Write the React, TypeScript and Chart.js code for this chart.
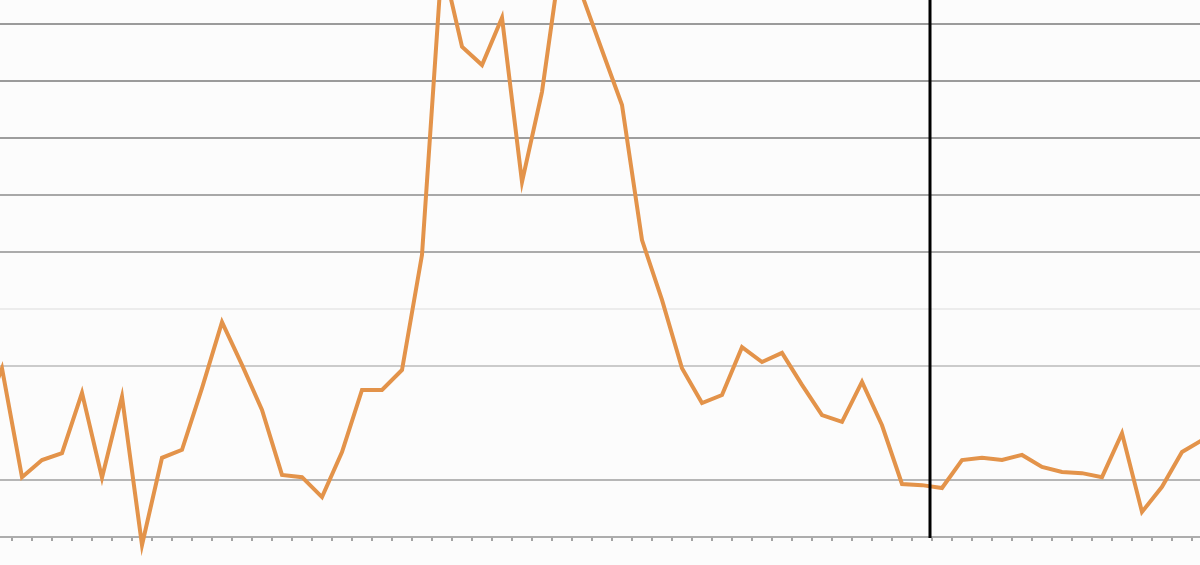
import React, { useEffect, useRef } from 'react';
import { Chart, registerables } from 'chart.js';

Chart.register(...registerables);

// one reading per period; the first and last readings sit just outside the visible crop
const readings = [
  2.05, 2.96, 1.05, 1.35, 1.47, 2.53, 1.04, 2.46, -0.14, 1.39,
  1.53, 2.61, 3.77, 3.02, 2.23, 1.09, 1.05, 0.7, 1.49, 2.58,
  2.58, 2.93, 4.95, 10.12, 8.6, 8.28, 9.11, 6.23, 7.81, 10.3,
  9.51, 8.54, 7.58, 5.21, 4.16, 2.96, 2.35, 2.49, 3.33, 3.07,
  3.23, 2.67, 2.14, 2.02, 2.72, 1.96, 0.93, 0.91, 0.86, 1.35,
  1.39, 1.35, 1.44, 1.23, 1.14, 1.12, 1.05, 1.82, 0.44, 0.88,
  1.49, 1.7,
];
const periods = readings.map((_, i) => String(i + 1));

// position of the vertical marker, in periods
const markerAt = 47.4;

// y tick values and the shade of their grid lines
const yTicks = [0, 1, 2, 3, 4, 5, 6, 7, 8, 9, 10, 11];
const gridShades = [
  '#adadad', '#b6b6b6', 'rgba(0,0,0,0)', '#cbcbcb', '#ececec', '#ababab',
  '#a8a8a8', '#9d9d9d', '#9b9b9b', '#9b9b9b', '#9b9b9b', '#9b9b9b',
];

const markerLine = {
  id: 'markerLine',
  afterDatasetsDraw(chart: Chart) {
    const { ctx, chartArea, scales } = chart;
    const x = scales.x.getPixelForValue(markerAt);
    ctx.save();
    ctx.strokeStyle = '#000000';
    ctx.lineWidth = 3;
    ctx.beginPath();
    ctx.moveTo(x, chartArea.top);
    ctx.lineTo(x, chartArea.bottom + 1);
    ctx.stroke();
    ctx.restore();
  },
};

const App: React.FC = () => {
  const chartRef = useRef<HTMLCanvasElement>(null);
  const chartInstance = useRef<Chart | null>(null);

  useEffect(() => {
    if (!chartRef.current) return;
    if (chartInstance.current) chartInstance.current.destroy();

    chartInstance.current = new Chart(chartRef.current, {
      type: 'line',
      data: {
        labels: periods,
        datasets: [
          {
            data: readings,
            borderColor: '#e3934a',
            borderWidth: 4,
            pointRadius: 0,
            tension: 0,
            clip: false,
          },
        ],
      },
      options: {
        animation: false,
        responsive: true,
        maintainAspectRatio: false,
        layout: { padding: { left: 0, right: 0, top: 0, bottom: 24 } },
        plugins: {
          legend: { display: false },
          tooltip: { enabled: false },
        },
        scales: {
          x: {
            offset: false,
            ticks: { display: false },
            grid: {
              offset: true,
              drawOnChartArea: false,
              drawTicks: true,
              tickLength: 4,
              color: '#a3a3a3',
              lineWidth: 2,
            },
            border: { display: true, color: '#adadad', width: 2 },
          },
          y: {
            min: yTicks[0],
            max: yTicks[yTicks.length - 1],
            ticks: { display: false, stepSize: 1 },
            grid: {
              drawTicks: false,
              lineWidth: 2,
              color: (c: any) => gridShades[yTicks.indexOf(c.tick.value)] ?? '#9b9b9b',
            },
            border: { display: false },
          },
        },
      },
      plugins: [markerLine],
    });

    return () => {
      if (chartInstance.current) {
        chartInstance.current.destroy();
        chartInstance.current = null;
      }
    };
  }, []);

  return (
    <div
      style={{
        position: 'fixed',
        left: 0,
        top: 0,
        width: 1200,
        height: 565,
        overflow: 'hidden',
        background: '#fcfcfc',
      }}
    >
      <div style={{ position: 'absolute', left: -18, top: -90, width: 1220, height: 655 }}>
        <canvas ref={chartRef} />
      </div>
    </div>
  );
};

export default App;
